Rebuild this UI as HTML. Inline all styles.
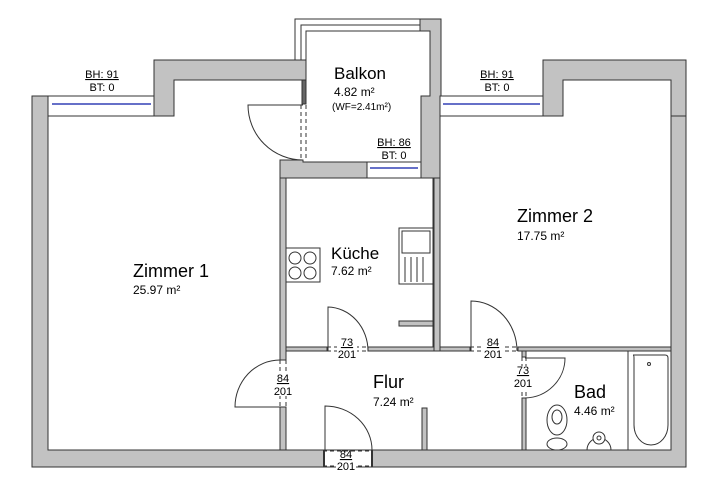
<!DOCTYPE html>
<html><head><meta charset="utf-8"><style>
html,body{margin:0;padding:0;background:#fff}
svg{display:block}
text{font-family:"Liberation Sans",Arial,sans-serif;fill:#000}
</style></head><body>
<svg width="720" height="490" viewBox="0 0 720 490" xmlns="http://www.w3.org/2000/svg">
<g fill="#c2c2c2" stroke="#333" stroke-width="1">
<polygon points="32,96 48,96 48,450 671,450 671,116 686,116 686,467 32,467"/>
<polygon points="154,60 306,60 306,80 174,80 174,116 154,116"/>
<polygon points="543,60 686,60 686,116 671,116 671,80 563,80 563,116 543,116"/>
<polygon points="420,19 441,19 441,96 440,96 440,178 421,178 421,96 430,96 430,31 420,31"/>
<polygon points="280,160 303,160 303,162 367,162 367,178 287,178 287,178 280,178"/>
<rect x="280" y="178" width="6" height="182"/>
<rect x="280" y="407" width="6" height="43"/>
<rect x="433" y="178" width="7" height="173"/>
<rect x="286" y="347" width="41" height="4"/>
<rect x="368" y="347" width="102" height="4"/>
<rect x="518" y="347" width="153" height="4"/>
<rect x="434" y="178" width="6" height="173"/>
<rect x="399" y="321" width="34" height="5"/>
<rect x="422" y="408" width="5" height="42"/>
<rect x="522" y="351" width="4" height="6"/>
<rect x="522" y="398" width="4" height="52"/>
<rect x="302" y="80" width="4" height="24" fill="#666"/>
</g>
<!-- entrance opening -->
<rect x="325" y="450.5" width="46" height="16" fill="#fff"/>
<g fill="none" stroke="#333" stroke-width="1">
<polyline points="295,60 295,19 420,19"/>
<polyline points="301,60 301,25 420,25"/>
<polyline points="306,60 306,31 420,31"/>
</g>
<g stroke="#333" stroke-width="1" fill="#fff">
<rect x="48" y="96" width="106" height="20"/>
<rect x="440" y="96" width="103" height="20"/>
<rect x="367" y="162" width="54" height="16"/>
</g>
<g stroke="#6670c8" stroke-width="2">
<line x1="52" y1="104" x2="151" y2="104"/>
<line x1="443" y1="104" x2="540" y2="104"/>
<line x1="370" y1="168" x2="418" y2="168"/>
</g>
<g fill="none" stroke="#333" stroke-width="1">
<path d="M303,105 L248,105 A55,55 0 0 0 303,160"/>
<line x1="301" y1="105" x2="301" y2="160" stroke-dasharray="4,3"/>
<line x1="306" y1="105" x2="306" y2="160" stroke-dasharray="4,3"/>
<path d="M328,351 L328,307 A41,44 0 0 1 368,351"/>
<line x1="327" y1="347" x2="368" y2="347" stroke-dasharray="4,3"/>
<line x1="327" y1="351" x2="368" y2="351" stroke-dasharray="4,3"/>
<path d="M471,351 L471,301 A46,50 0 0 1 517,351"/>
<line x1="470" y1="347" x2="518" y2="347" stroke-dasharray="4,3"/>
<line x1="470" y1="351" x2="518" y2="351" stroke-dasharray="4,3"/>
<path d="M525,358 L565,358 A41,40 0 0 1 525,398"/>
<line x1="522" y1="357" x2="522" y2="398" stroke-dasharray="4,3"/>
<line x1="526" y1="357" x2="526" y2="398" stroke-dasharray="4,3"/>
<path d="M280,407 L235,407 A45,47 0 0 1 280,360"/>
<line x1="280" y1="360" x2="280" y2="407" stroke-dasharray="4,3"/>
<line x1="286" y1="360" x2="286" y2="407" stroke-dasharray="4,3"/>
<path d="M325,450 L325,406 A47,44 0 0 1 372,450"/>
<line x1="323" y1="451" x2="373" y2="451" stroke-dasharray="4,3"/>
<line x1="323" y1="466" x2="373" y2="466" stroke-dasharray="4,3"/>
<line x1="324" y1="450" x2="324" y2="467" stroke-width="2"/>
<line x1="372" y1="450" x2="372" y2="467" stroke-width="2"/>
</g>
<g fill="#fff" stroke="#333" stroke-width="1">
<rect x="286" y="248" width="34" height="34"/>
<circle cx="295" cy="258" r="6"/><circle cx="310" cy="258" r="6"/>
<circle cx="295" cy="273" r="6"/><circle cx="310" cy="273" r="6"/>
<rect x="399" y="228" width="34" height="56"/>
<rect x="402" y="231" width="28" height="22"/>
<line x1="405" y1="257" x2="405" y2="282"/><line x1="411" y1="257" x2="411" y2="282"/>
<line x1="417" y1="257" x2="417" y2="282"/><line x1="423" y1="257" x2="423" y2="282"/>
<rect x="628" y="351" width="43" height="99"/>
<path d="M633,355 L665,355 Q668,355 668,358 L668,425 A17,20 0 0 1 634,425 L634,358 Q634,355 633,355 Z"/>
<circle cx="649" cy="364" r="1.5"/>
<ellipse cx="557" cy="420" rx="10" ry="15"/>
<ellipse cx="557" cy="417" rx="5" ry="7"/>
<ellipse cx="557" cy="444" rx="10" ry="6"/>
<path d="M587,450 A12,12 0 1 1 611,450 Z"/>
<circle cx="599" cy="438" r="6"/>
<circle cx="599" cy="438" r="2"/>
</g>
<g font-size="11" text-anchor="middle">
<text x="102" y="78" text-decoration="underline">BH: 91</text>
<text x="102" y="91">BT: 0</text>
<text x="497" y="78" text-decoration="underline">BH: 91</text>
<text x="497" y="91">BT: 0</text>
<text x="394" y="146" text-decoration="underline">BH: 86</text>
<text x="394" y="159">BT: 0</text>
</g>
<g fill="#fff">
<rect x="337" y="339" width="20" height="20"/>
<rect x="483" y="339" width="20" height="20"/>
<rect x="513" y="366" width="20" height="23"/>
<rect x="273" y="373" width="20" height="23"/>
<rect x="336" y="452" width="20" height="17"/>
</g>
<g font-size="11" text-anchor="middle">
<text x="347" y="346" text-decoration="underline">73</text><text x="347" y="358">201</text>
<text x="493" y="346" text-decoration="underline">84</text><text x="493" y="358">201</text>
<text x="523" y="374" text-decoration="underline">73</text><text x="523" y="387">201</text>
<text x="283" y="382" text-decoration="underline">84</text><text x="283" y="395">201</text>
<text x="346" y="458" text-decoration="underline">84</text><text x="346" y="470">201</text>
</g>
<text x="334" y="79" font-size="17">Balkon</text>
<text x="334" y="96" font-size="12">4.82 m²</text>
<text x="332" y="110" font-size="10">(WF=2.41m²)</text>
<text x="133" y="277" font-size="18">Zimmer 1</text>
<text x="133" y="294" font-size="12">25.97 m²</text>
<text x="331" y="259" font-size="17">Küche</text>
<text x="331" y="275" font-size="12">7.62 m²</text>
<text x="517" y="222" font-size="18">Zimmer 2</text>
<text x="517" y="240" font-size="12">17.75 m²</text>
<text x="373" y="388" font-size="18">Flur</text>
<text x="373" y="406" font-size="12">7.24 m²</text>
<text x="574" y="398" font-size="18">Bad</text>
<text x="574" y="415" font-size="12">4.46 m²</text>
</svg>
</body></html>
